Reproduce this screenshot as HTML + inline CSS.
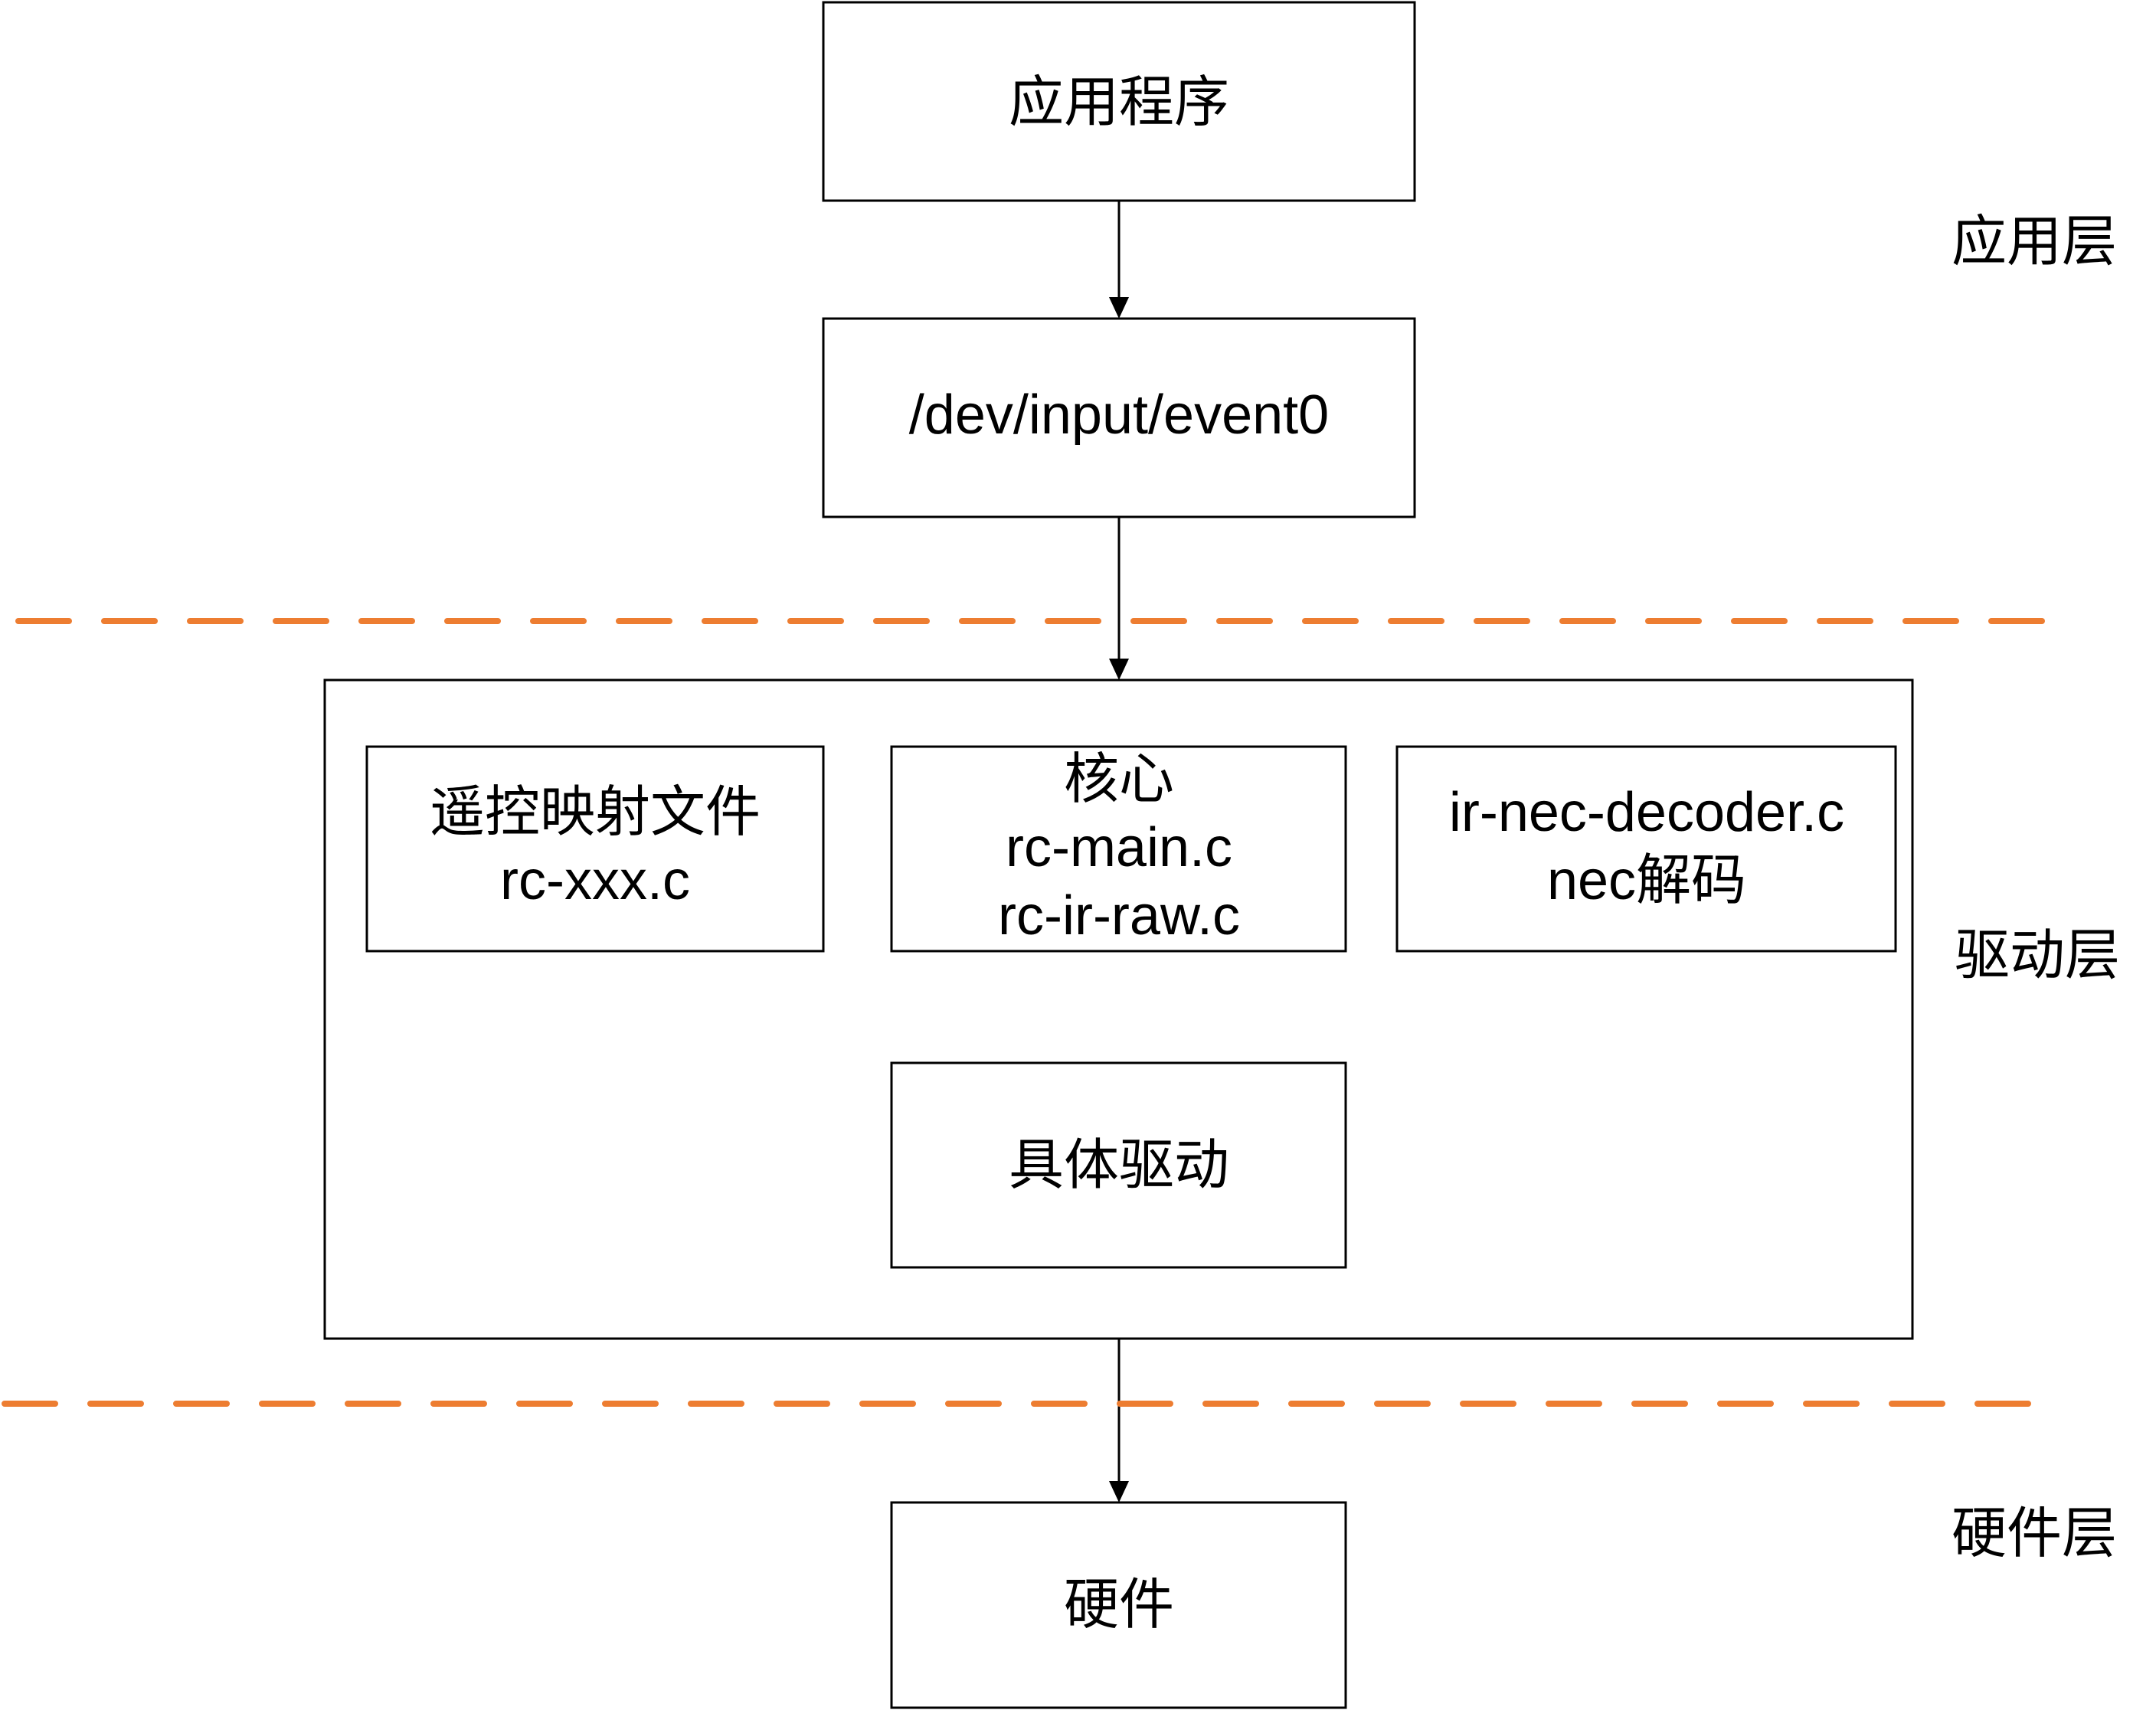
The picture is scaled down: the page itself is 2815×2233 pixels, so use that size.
<!DOCTYPE html>
<html><head><meta charset="utf-8"><style>
html,body{margin:0;padding:0;background:#fff;}
svg{display:block;}
text{font-family:"Liberation Sans","Noto Sans CJK SC",sans-serif;font-size:72px;fill:#000;}
</style></head><body>
<svg width="2815" height="2233" viewBox="0 0 2815 2233" xmlns="http://www.w3.org/2000/svg">
<defs>
<marker id="ar" markerWidth="10" markerHeight="10" refX="10" refY="5" orient="auto" markerUnits="userSpaceOnUse" viewBox="0 0 10 10">
</marker>
</defs>
<g fill="none" stroke="#000" stroke-width="3">
<rect x="1075" y="3" width="772" height="259"/>
<rect x="1075" y="416" width="772" height="259"/>
<rect x="424" y="888" width="2073" height="860"/>
<rect x="479" y="975" width="596" height="267"/>
<rect x="1164" y="975" width="593" height="267"/>
<rect x="1824" y="975" width="651" height="267"/>
<rect x="1164" y="1388" width="593" height="267"/>
<rect x="1164" y="1962" width="593" height="268"/>
<line x1="1461" y1="262" x2="1461" y2="392"/>
<line x1="1461" y1="675" x2="1461" y2="864"/>
<line x1="1461" y1="1748" x2="1461" y2="1938"/>
</g>
<g fill="#000">
<polygon points="1448,388 1474,388 1461,416"/>
<polygon points="1448,860 1474,860 1461,888"/>
<polygon points="1448,1934 1474,1934 1461,1962"/>
</g>
<g stroke="#ED7D31" stroke-width="8" stroke-linecap="round" stroke-dasharray="66 46">
<line x1="24" y1="811" x2="2680" y2="811"/>
<line x1="6" y1="1833" x2="2662" y2="1833"/>
</g>
<g text-anchor="middle">
<text x="1461" y="158">应用程序</text>
<text x="1461" y="566">/dev/input/event0</text>
<text x="777" y="1085">遥控映射文件</text>
<text x="777" y="1174">rc-xxx.c</text>
<text x="1461" y="1042">核心</text>
<text x="1461" y="1131">rc-main.c</text>
<text x="1461" y="1220">rc-ir-raw.c</text>
<text x="2150" y="1085">ir-nec-decoder.c</text>
<text x="2150" y="1174">nec解码</text>
<text x="1461" y="1546">具体驱动</text>
<text x="1461" y="2120">硬件</text>
</g>
<text x="2548" y="340">应用层</text>
<text x="2552" y="1272">驱动层</text>
<text x="2548" y="2027">硬件层</text>
</svg>
</body></html>
